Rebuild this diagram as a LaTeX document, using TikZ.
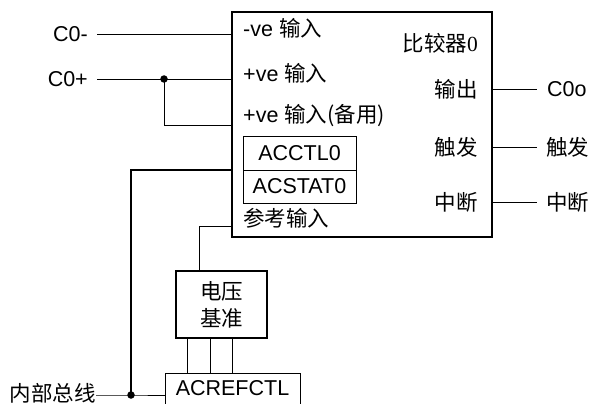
\documentclass[tikz,border=0pt]{standalone}
\usepackage{fontspec}
\setmainfont{Liberation Sans}
\newfontfamily\cjk{Noto Sans CJK SC}
\newfontfamily\srf{Liberation Serif}
\newcommand\cn[1]{{\cjk #1}}
\begin{document}
\begin{tikzpicture}[x=1pt,y=-1pt,
  txt/.style={inner sep=0pt, font=\fontsize{21.5}{27}\selectfont},
  wire/.style={line width=0.9pt},
  bus/.style={line width=1.8pt},
  boxthick/.style={draw, line width=1.8pt, inner sep=0pt},
  regbox/.style={draw, line width=0.9pt, inner sep=0pt, font=\fontsize{21.5}{24}\selectfont},
  dot/.style={circle, fill, inner sep=0pt, minimum size=7.5pt}]
\clip (0,0) rectangle (589,404);
\fill[white] (0,0) rectangle (589,404);

% main comparator box
\node[boxthick, minimum width=260, minimum height=225] (cmp) at (362,124.5) {};
\node[txt, anchor=west] (inm) at (243,28) {-ve \cn{输入}};
\node[txt, anchor=west] (inp) at (243,73) {+ve \cn{输入}};
\node[txt, anchor=west] (inalt) at (243,116) {+ve \cn{输入(备用)}};
\node[regbox, minimum width=113, minimum height=34] (acctl) at (299.5,153) {ACCTL0};
\node[regbox, minimum width=113, minimum height=33] (acstat) at (299.5,186.5) {ACSTAT0};
\node[txt, anchor=west] (refin) at (243,218) {\cn{参考输入}};
\node[txt, anchor=east] (name) at (478,43) {\cn{比较器}{\srf 0}};
\node[txt, anchor=east] (out) at (478,89) {\cn{输出}};
\node[txt, anchor=east] (trg) at (478,147) {\cn{触发}};
\node[txt, anchor=east] (irq) at (478,202) {\cn{中断}};

% left inputs
\node[txt, anchor=east] (c0m) at (88,34) {C0-};
\node[txt, anchor=east] (c0p) at (88,79) {C0+};
\draw[wire] ([xshift=9pt]c0m.east) -- (c0m.east -| cmp.west);
\draw[wire] ([xshift=9pt]c0p.east) -- (c0p.east -| cmp.west);
\node[dot] (j1) at (164,79) {};
\coordinate (pinalt) at (232,125);
\draw[wire] (j1.center) |- (pinalt);

% right outputs
\node[txt, anchor=west] (c0o) at (547,89) {C0o};
\node[txt, anchor=west] (trgo) at (546,147) {\cn{触发}};
\node[txt, anchor=west] (irqo) at (546,202) {\cn{中断}};
\draw[wire] (cmp.east |- c0o.west) -- ([xshift=-10pt]c0o.west);
\draw[wire] (cmp.east |- trgo.west) -- ([xshift=-9pt]trgo.west);
\draw[wire] (cmp.east |- irqo.west) -- ([xshift=-9pt]irqo.west);

% voltage reference
\node[boxthick, minimum width=91, minimum height=67, align=center, font=\fontsize{21.5}{27}\selectfont] (vref) at (221.5,304.5) {\cn{电压}\\\cn{基准}};
\coordinate (pinref) at (232,226);
\draw[wire] (pinref) -| ([xshift=-22.5pt]vref.north);

% ACREFCTL register
\node[draw, line width=0.9pt, minimum width=135, minimum height=60, anchor=north] (acref) at (232.5,373) {};
\node[txt, anchor=north] (acreft) at ([yshift=-7pt]acref.north) {ACREFCTL};
\draw[wire] ([xshift=-34.5pt]vref.south) -- ([xshift=-34.5pt]vref.south |- acref.north);
\draw[wire] ([xshift=-11.5pt]vref.south) -- ([xshift=-11.5pt]vref.south |- acref.north);
\draw[wire] ([xshift=10.5pt]vref.south) -- ([xshift=10.5pt]vref.south |- acref.north);

% internal bus
\node[txt, anchor=east] (ibus) at (96,393) {\cn{内部总线}};
\node[dot] (j2) at (131,395) {};
\coordinate (pinbus) at (232,170);
\draw[wire] (ibus.east |- j2.center) -- (j2.center) -- (j2.center -| acref.west);
\draw[bus] (pinbus) -| (j2.center);
\end{tikzpicture}
\end{document}
